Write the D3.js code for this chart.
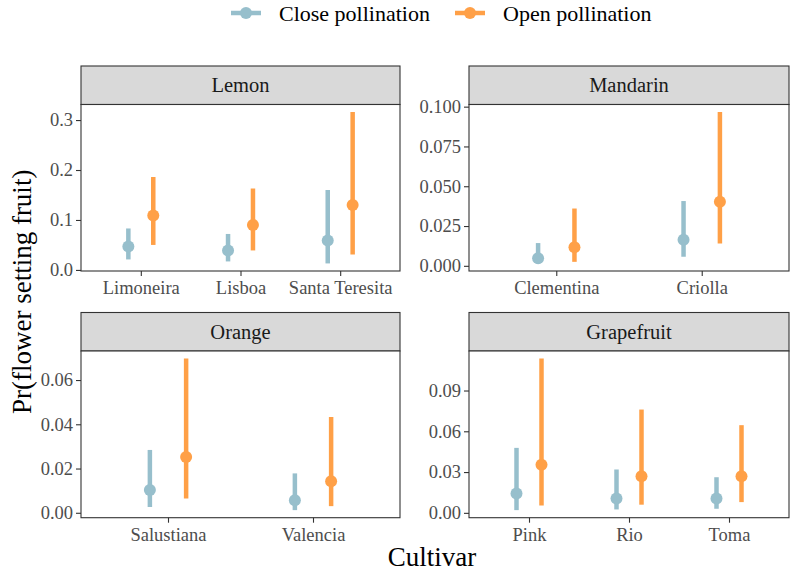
<!DOCTYPE html>
<html>
<head>
<meta charset="utf-8">
<script src="https://cdn.jsdelivr.net/npm/d3@7"></script>
<style>
  html, body { margin: 0; padding: 0; background: #fff; }
  svg { display: block; }
  text { font-family: "Liberation Serif", "Times New Roman", serif; }
</style>
</head>
<body>
<svg id="chart" width="791" height="574"></svg>
<script>
// ---------- DATA ----------
const groups = ["Close pollination", "Open pollination"];
const groupColors = ["#97BFCC", "#FFA047"];

const lemonCultivars = ["Limoneira", "Lisboa", "Santa Teresita"];
const lemonClose   = [0.047, 0.039, 0.059];
const lemonCloseLo = [0.021, 0.017, 0.013];
const lemonCloseHi = [0.083, 0.072, 0.160];
const lemonOpen    = [0.109, 0.090, 0.130];
const lemonOpenLo  = [0.050, 0.039, 0.031];
const lemonOpenHi  = [0.186, 0.163, 0.316];
const lemonTicks   = [0.0, 0.1, 0.2, 0.3];
const lemonTickLabels = ["0.0", "0.1", "0.2", "0.3"];

const mandarinCultivars = ["Clementina", "Criolla"];
const mandarinClose   = [0.0047, 0.0164];
const mandarinCloseLo = [0.0015, 0.0057];
const mandarinCloseHi = [0.0143, 0.0407];
const mandarinOpen    = [0.0116, 0.0402];
const mandarinOpenLo  = [0.0025, 0.0141];
const mandarinOpenHi  = [0.0360, 0.0966];
const mandarinTicks   = [0.000, 0.025, 0.050, 0.075, 0.100];
const mandarinTickLabels = ["0.000", "0.025", "0.050", "0.075", "0.100"];

const orangeCultivars = ["Salustiana", "Valencia"];
const orangeClose   = [0.0103, 0.0057];
const orangeCloseLo = [0.0026, 0.0012];
const orangeCloseHi = [0.0284, 0.0178];
const orangeOpen    = [0.0252, 0.0143];
const orangeOpenLo  = [0.0064, 0.0030];
const orangeOpenHi  = [0.0697, 0.0433];
const orangeTicks   = [0.00, 0.02, 0.04, 0.06];
const orangeTickLabels = ["0.00", "0.02", "0.04", "0.06"];

const grapefruitCultivars = ["Pink", "Rio", "Toma"];
const grapefruitClose   = [0.0142, 0.0105, 0.0105];
const grapefruitCloseLo = [0.0020, 0.0025, 0.0030];
const grapefruitCloseHi = [0.0478, 0.0319, 0.0262];
const grapefruitOpen    = [0.0354, 0.0269, 0.0270];
const grapefruitOpenLo  = [0.0054, 0.0060, 0.0079];
const grapefruitOpenHi  = [0.1135, 0.0760, 0.0645];
const grapefruitTicks   = [0.00, 0.03, 0.06, 0.09];
const grapefruitTickLabels = ["0.00", "0.03", "0.06", "0.09"];

const panelTitles = ["Lemon", "Mandarin", "Orange", "Grapefruit"];
const yTitle = "Pr(flower setting fruit)";
const xTitle = "Cultivar";

// ---------- BUILD PANEL TABLE ----------
function makePanel(title, cultivars, c, cLo, cHi, o, oLo, oHi, ticks, tickLabels) {
  const rows = [];
  cultivars.forEach((cv, i) => {
    rows.push({cultivar: cv, g: 0, est: c[i], lo: cLo[i], hi: cHi[i]});
    rows.push({cultivar: cv, g: 1, est: o[i], lo: oLo[i], hi: oHi[i]});
  });
  return {title, cultivars, rows, ticks, tickLabels};
}
const panels = [
  makePanel(panelTitles[0], lemonCultivars, lemonClose, lemonCloseLo, lemonCloseHi, lemonOpen, lemonOpenLo, lemonOpenHi, lemonTicks, lemonTickLabels),
  makePanel(panelTitles[1], mandarinCultivars, mandarinClose, mandarinCloseLo, mandarinCloseHi, mandarinOpen, mandarinOpenLo, mandarinOpenHi, mandarinTicks, mandarinTickLabels),
  makePanel(panelTitles[2], orangeCultivars, orangeClose, orangeCloseLo, orangeCloseHi, orangeOpen, orangeOpenLo, orangeOpenHi, orangeTicks, orangeTickLabels),
  makePanel(panelTitles[3], grapefruitCultivars, grapefruitClose, grapefruitCloseLo, grapefruitCloseHi, grapefruitOpen, grapefruitOpenLo, grapefruitOpenHi, grapefruitTicks, grapefruitTickLabels)
];

// ---------- LAYOUT ----------
const serif = '"Liberation Serif", "Times New Roman", serif';
const cols = [{x0: 81, x1: 400}, {x0: 469, x1: 789}];
const rowsL = [{s: 66, t: 104.5, b: 271}, {s: 312.5, t: 351, b: 517.7}];
const border = "#333333";
const tickText = "#4D4D4D";

const svg = d3.select("#chart");

panels.forEach((p, idx) => {
  const col = cols[idx % 2], row = rowsL[Math.floor(idx / 2)];
  const g = svg.append("g");

  // y domain: ggplot default 5% expansion
  const mn = d3.min(p.rows, d => d.lo), mx = d3.max(p.rows, d => d.hi);
  const pad = (mx - mn) * 0.05;
  const y = d3.scaleLinear().domain([mn - pad, mx + pad]).range([row.b, row.t]);
  const x = d3.scalePoint().domain(p.cultivars).range([col.x0, col.x1]).padding(0.6);
  const dodge = x.step() * 0.125;

  // strip
  g.append("rect")
    .attr("x", col.x0).attr("y", row.s)
    .attr("width", col.x1 - col.x0).attr("height", row.t - row.s)
    .attr("fill", "#D9D9D9").attr("stroke", border).attr("stroke-width", 1.1);
  g.append("text")
    .attr("x", (col.x0 + col.x1) / 2).attr("y", (row.s + row.t) / 2)
    .attr("dy", "0.35em").attr("text-anchor", "middle")
    .attr("font-size", 20.5).attr("fill", "#1A1A1A")
    .text(p.title);

  // panel background
  g.append("rect")
    .attr("x", col.x0).attr("y", row.t)
    .attr("width", col.x1 - col.x0).attr("height", row.b - row.t)
    .attr("fill", "#fff");

  // axes
  const yAxis = d3.axisLeft(y).tickValues(p.ticks)
    .tickFormat((d, i) => p.tickLabels[i]).tickSize(5).tickPadding(3);
  const ya = g.append("g").attr("transform", `translate(${col.x0},0)`).call(yAxis);
  const xAxis = d3.axisBottom(x).tickSize(5).tickPadding(5);
  const xa = g.append("g").attr("transform", `translate(0,${row.b})`).call(xAxis);
  [ya, xa].forEach(a => {
    a.attr("font-family", serif).attr("font-size", 18.5);
    a.select(".domain").remove();
    a.selectAll(".tick line").attr("stroke", border).attr("stroke-width", 1.1);
    a.selectAll(".tick text").attr("fill", tickText).attr("font-size", 18.5)
      .attr("font-family", serif);
  });

  // error bars + points
  const marks = g.append("g");
  marks.selectAll("line.err").data(p.rows).join("line")
    .attr("class", "err")
    .attr("x1", d => x(d.cultivar) + (d.g === 0 ? -dodge : dodge))
    .attr("x2", d => x(d.cultivar) + (d.g === 0 ? -dodge : dodge))
    .attr("y1", d => y(d.lo)).attr("y2", d => y(d.hi))
    .attr("stroke", d => groupColors[d.g]).attr("stroke-width", 4.5);
  marks.selectAll("circle.pt").data(p.rows).join("circle")
    .attr("class", "pt")
    .attr("cx", d => x(d.cultivar) + (d.g === 0 ? -dodge : dodge))
    .attr("cy", d => y(d.est)).attr("r", 6)
    .attr("fill", d => groupColors[d.g]);

  // panel border
  g.append("rect")
    .attr("x", col.x0).attr("y", row.t)
    .attr("width", col.x1 - col.x0).attr("height", row.b - row.t)
    .attr("fill", "none").attr("stroke", border).attr("stroke-width", 1.1);
});

// ---------- AXIS TITLES ----------
svg.append("text")
  .attr("transform", `translate(31,${(rowsL[0].s + rowsL[1].b) / 2}) rotate(-90)`)
  .attr("text-anchor", "middle").attr("font-size", 27).attr("fill", "#000")
  .text(yTitle);
svg.append("text")
  .attr("x", (cols[0].x0 + cols[1].x1) / 2 - 3).attr("y", 566)
  .attr("text-anchor", "middle").attr("font-size", 27).attr("fill", "#000")
  .text(xTitle);

// ---------- LEGEND ----------
const legendX = [231, 455];
const leg = svg.append("g");
groups.forEach((name, i) => {
  const lx = legendX[i];
  leg.append("line").attr("x1", lx).attr("x2", lx + 30).attr("y1", 13).attr("y2", 13)
    .attr("stroke", groupColors[i]).attr("stroke-width", 4.5);
  leg.append("circle").attr("cx", lx + 15).attr("cy", 13).attr("r", 6).attr("fill", groupColors[i]);
  leg.append("text").attr("x", lx + 48).attr("y", 13).attr("dy", "0.35em")
    .attr("font-size", 22).attr("fill", "#000").text(name);
});
</script>
</body>
</html>
